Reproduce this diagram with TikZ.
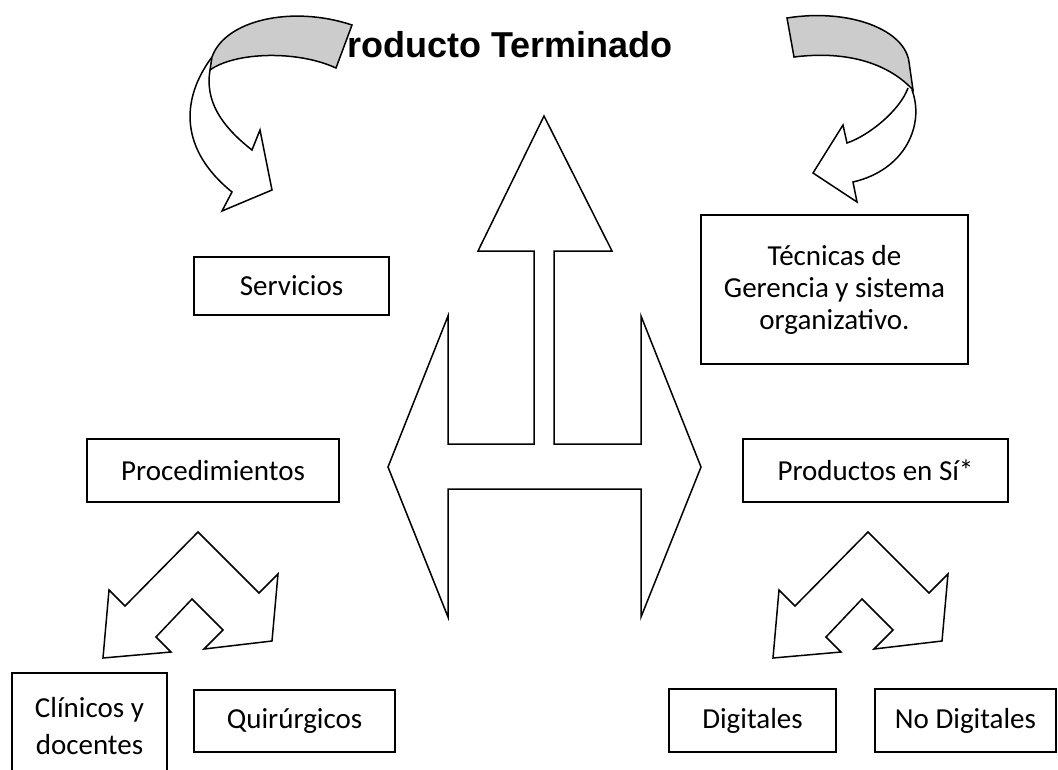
\documentclass[tikz,border=0pt]{standalone}
\usepackage{fontspec}
\setmainfont{Carlito}
\newfontfamily\titlefont{Liberation Sans}

\begin{document}
\begin{tikzpicture}[x=1pt,y=-1pt,line join=miter,
    box/.style={draw,line width=1.6pt,inner sep=0pt,align=center,
        font=\fontsize{29}{32}\selectfont},
    flecha/.style={draw,line width=1.5pt,fill=white},
    cinta/.style={draw,line width=1.5pt,fill=gray!40}]
\useasboundingbox (0,0) rectangle (1058,769);
\clip (0,0) rectangle (1058,769);

% titulo (la P queda tapada por la cinta gris)
\node[anchor=base west,inner sep=0pt,font=\titlefont\bfseries\fontsize{36}{40}\selectfont]
    (titulo) at (323,57) {Producto Terminado};

% flecha curva izquierda
\draw[flecha] (212,57) .. controls (180,100) and (180,150) .. (232,192)
    -- (222,211) -- (272,190) -- (260,130) -- (252,150)
    .. controls (220,125) and (205,100) .. (210,70);
\draw[cinta] (212,57) .. controls (225,20) and (292,5) .. (352,25)
    -- (336,68) .. controls (297,50) and (235,52) .. (210,70) -- cycle;

% flecha curva derecha
\draw[flecha] (912,90) .. controls (925,125) and (905,170) .. (853,182)
    -- (857,202) -- (813,173) -- (843,125) -- (847,143)
    .. controls (870,135) and (900,110) .. (908,88);
\draw[cinta] (787,18) .. controls (850,8) and (905,30) .. (909,62)
    -- (913,90) .. controls (890,65) and (850,50) .. (794,57) -- cycle;

% flecha central de tres puntas
\draw[flecha] (544,116) -- (612,251) -- (554,251) -- (554,444) -- (641,444)
    -- (641,316) -- (701,467) -- (641,617) -- (641,489) -- (448,489)
    -- (448,617) -- (388,467) -- (448,316) -- (448,444) -- (534,444)
    -- (534,251) -- (478,251) -- cycle;

% flechas dobles de abajo
\foreach \dx in {0,670}{
\begin{scope}[xshift=\dx]
    \draw[flecha] (198,532) -- (125,606) -- (109,590) -- (103,658) -- (171,652)
        -- (156,637) -- (192,599) -- (223,630) -- (204,649) -- (272,641)
        -- (278,574) -- (259,593) -- cycle;
\end{scope}
}

% cajas
\node[box,minimum width=195,minimum height=58] (servicios) at (291.5,286) {Servicios};
\node[box,minimum width=267,minimum height=149] (tecnicas) at (834.5,289.5)
    {T\'ecnicas de\\Gerencia y sistema\\organizativo.};
\node[box,minimum width=252,minimum height=63] (proced) at (213,470.5) {Procedimientos};
\node[box,minimum width=265,minimum height=63] (productos) at (875.5,470.5) {Productos en S\'i*};
\node[box,minimum width=155,minimum height=106,font=\fontsize{29}{37}\selectfont]
    (clinicos) at (89.5,726) {Cl\'inicos y\\docentes};
\node[box,minimum width=201,minimum height=62] (quirurg) at (294.5,721) {Quir\'urgicos};
\node[box,minimum width=167,minimum height=63] (digital) at (752.5,720.5) {Digitales};
\node[box,minimum width=181,minimum height=63] (nodigital) at (965.5,720.5) {No Digitales};
\end{tikzpicture}
\end{document}
